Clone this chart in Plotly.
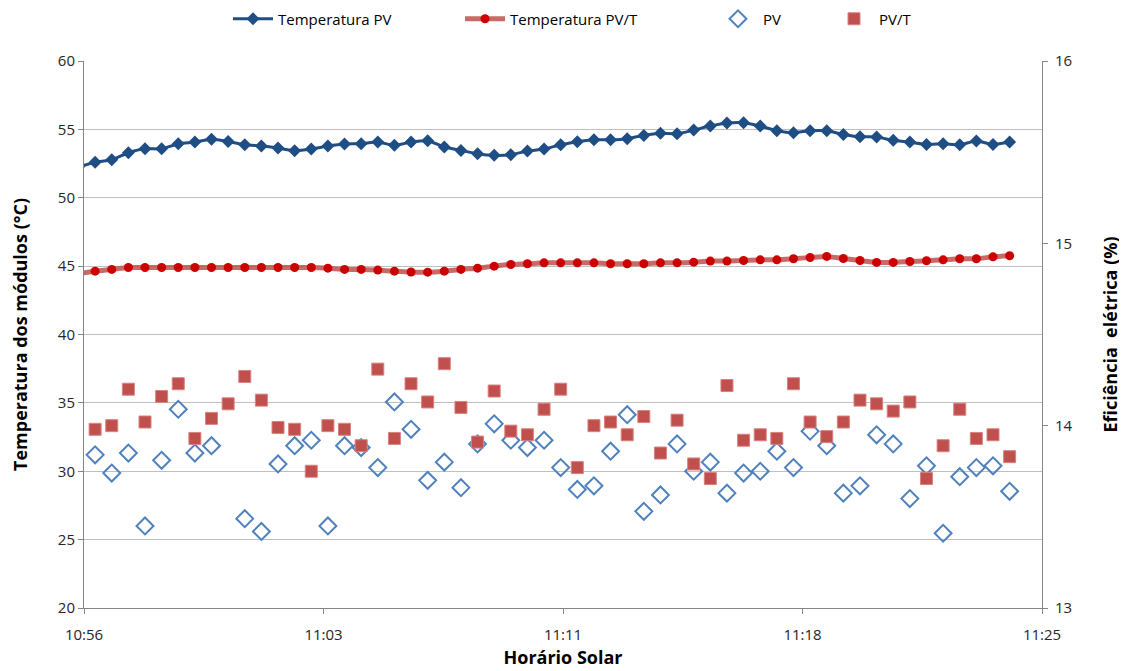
import pandas as pd
import plotly.graph_objects as go

# ---- data ----
start_time = "2014-01-01 10:55:50"   # first (clipped) sample, before axis start
interval_s = 30.2                     # logger interval in seconds
n_points = 57

temp_pv = [52.25, 52.6, 52.78, 53.29, 53.58, 53.58, 53.95, 54.07, 54.27, 54.12, 53.88,
           53.78, 53.63, 53.44, 53.56, 53.78, 53.93, 53.95, 54.07, 53.83, 54.07,
           54.17, 53.71, 53.46, 53.22, 53.10, 53.15, 53.41, 53.56, 53.88, 54.10,
           54.24, 54.24, 54.32, 54.56, 54.71, 54.68, 54.95, 55.24, 55.46, 55.49,
           55.24, 54.90, 54.76, 54.90, 54.90, 54.63, 54.46, 54.44, 54.20, 54.07,
           53.90, 53.95, 53.88, 54.15, 53.90, 54.07]

temp_pvt = [44.45, 44.63, 44.76, 44.90, 44.90, 44.90, 44.90, 44.90, 44.90, 44.90, 44.90,
            44.90, 44.90, 44.90, 44.90, 44.85, 44.76, 44.76, 44.71, 44.63, 44.57,
            44.56, 44.63, 44.76, 44.85, 45.00, 45.12, 45.17, 45.24, 45.24, 45.24,
            45.24, 45.17, 45.17, 45.17, 45.24, 45.24, 45.29, 45.37, 45.37, 45.41,
            45.46, 45.46, 45.54, 45.63, 45.71, 45.56, 45.41, 45.27, 45.27, 45.34,
            45.39, 45.46, 45.54, 45.54, 45.68, 45.76]

eff_pv = [None, 13.84, 13.74, 13.85, 13.45, 13.81, 14.09, 13.85, 13.89, None, 13.49,
          13.42, 13.79, 13.89, 13.92, 13.45, 13.89, 13.88, 13.77, 14.13, 13.98,
          13.70, 13.80, 13.66, 13.90, 14.01, 13.92, 13.88, 13.92, 13.77, 13.65,
          13.67, 13.86, 14.06, 13.53, 13.62, 13.90, 13.75, 13.80, 13.63, 13.74,
          13.75, 13.86, 13.77, 13.97, 13.89, 13.63, 13.67, 13.95, 13.90, 13.60,
          13.78, 13.41, 13.72, 13.77, 13.78, 13.64]

eff_pvt = [None, 13.98, 14.00, 14.20, 14.02, 14.16, 14.23, 13.93, 14.04, 14.12, 14.27,
           14.14, 13.99, 13.98, 13.75, 14.00, 13.98, 13.89, 14.31, 13.93, 14.23,
           14.13, 14.34, 14.10, 13.91, 14.19, 13.97, 13.95, 14.09, 14.20, 13.77,
           14.00, 14.02, 13.95, 14.05, 13.85, 14.03, 13.79, 13.71, 14.22, 13.92,
           13.95, 13.93, 14.23, 14.02, 13.94, 14.02, 14.14, 14.12, 14.08, 14.13,
           13.71, 13.89, 14.09, 13.93, 13.95, 13.83]

x_tick_vals = ["2014-01-01 10:56:00", "2014-01-01 11:03:15", "2014-01-01 11:10:30",
               "2014-01-01 11:17:45", "2014-01-01 11:25:00"]
x_tick_text = ["10:56", "11:03", "11:11", "11:18", "11:25"]
x_range = ["2014-01-01 10:56:00", "2014-01-01 11:25:00"]

times = pd.Timestamp(start_time) + pd.to_timedelta([i * interval_s for i in range(n_points)], unit="s")

FONT = "Open Sans"
GRID = "#BFBFBF"
AX = "#868686"

fig = go.Figure()

fig.add_trace(go.Scatter(
    x=times, y=temp_pv, name="Temperatura PV", mode="lines+markers", legend="legend",
    line=dict(color="#1F4E85", width=3, shape="spline", smoothing=0.6),
    marker=dict(symbol="diamond", size=10, color="#1F4E85"),
))
fig.add_trace(go.Scatter(
    x=times, y=temp_pvt, name="Temperatura PV/T", mode="lines+markers", legend="legend2",
    line=dict(color="rgba(192,80,77,0.85)", width=5, shape="spline", smoothing=0.6),
    marker=dict(symbol="circle", size=9, color="#CC0000"),
))
fig.add_trace(go.Scatter(
    x=times, y=eff_pv, name="PV", mode="markers", yaxis="y2", legend="legend3",
    marker=dict(symbol="diamond-open", size=13, color="#4F81BD", line=dict(width=2, color="#4F81BD")),
))
fig.add_trace(go.Scatter(
    x=times, y=eff_pvt, name="PV/T", mode="markers", yaxis="y2", legend="legend4",
    marker=dict(symbol="square", size=12, color="#C0504D", line=dict(width=1, color="#D9827F")),
))

def leg(xpx):
    return dict(orientation="h", x=(xpx - 84) / 958, xanchor="left",
                yref="container", y=1 - 11 / 671, yanchor="middle",
                font=dict(family=FONT, size=15, color="#000000"),
                itemwidth=40, bgcolor="rgba(0,0,0,0)")

fig.update_layout(
    width=1127, height=671,
    margin=dict(l=76, r=93, t=53, b=71, autoexpand=False),
    paper_bgcolor="white", plot_bgcolor="white",
    font=dict(family=FONT, size=15, color="#262626"),
    showlegend=True,
    legend=leg(228), legend2=leg(460), legend3=leg(713), legend4=leg(829),
    xaxis=dict(
        type="date", range=x_range, tickvals=x_tick_vals, ticktext=x_tick_text,
        showgrid=False, showline=True, linecolor=AX, linewidth=1,
        ticks="outside", ticklen=5, tickcolor=AX, ticklabelstandoff=8,
        tickfont=dict(family=FONT, size=15, color="#262626"),
        title=dict(text="<b>Horário Solar</b>", font=dict(family=FONT, size=18, color="#000000"), standoff=8),
        zeroline=False, automargin=False,
    ),
    yaxis=dict(
        range=[20, 60], dtick=5, showgrid=True, gridcolor=GRID, gridwidth=1,
        showline=True, linecolor=AX, linewidth=1, ticks="outside", ticklen=5, tickcolor=AX,
        tickfont=dict(family=FONT, size=15, color="#262626"),
        title=dict(text="<b>Temperatura dos módulos (°C)</b>", font=dict(family=FONT, size=18, color="#000000"), standoff=34),
        zeroline=False, automargin=False,
    ),
    yaxis2=dict(
        range=[13, 16], dtick=1, overlaying="y", side="right", showgrid=False,
        showline=True, linecolor=AX, linewidth=1, ticks="outside", ticklen=5, tickcolor=AX,
        ticklabelstandoff=4,
        tickfont=dict(family=FONT, size=15, color="#262626"),
        title=dict(text="<b>Eficiência  elétrica (%)</b>", font=dict(family=FONT, size=18, color="#000000"), standoff=32),
        zeroline=False, automargin=False,
    ),
)

fig.write_html("out.html")
